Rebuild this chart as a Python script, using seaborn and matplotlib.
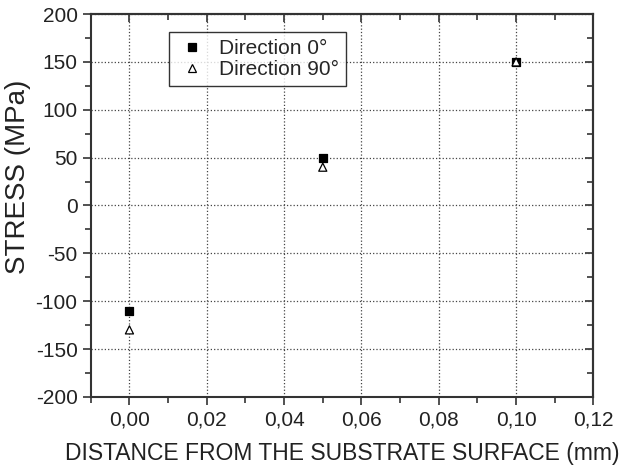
import seaborn as sns
import matplotlib.pyplot as plt
import pandas as pd
from matplotlib.ticker import MultipleLocator, FuncFormatter

# data
distance = [0.00, 0.05, 0.10]
stress_0 = [-110, 50, 150]
stress_90 = [-130, 40, 150]
labels = ["Direction 0°", "Direction 90°"]

df = pd.DataFrame({
    "distance": distance * 2,
    "stress": stress_0 + stress_90,
    "series": [labels[0]] * 3 + [labels[1]] * 3,
})

sns.set_style("ticks")
plt.rcParams["font.family"] = ["Liberation Sans", "DejaVu Sans"]
plt.rcParams["axes.unicode_minus"] = False

fig, ax = plt.subplots(figsize=(6.26, 4.68), dpi=100)

sns.scatterplot(data=df, x="distance", y="stress", hue="series", style="series",
                markers={labels[0]: "s", labels[1]: "^"},
                palette={labels[0]: "black", labels[1]: "white"},
                edgecolor="black", s=34, linewidth=0.9, ax=ax, zorder=3)

ax.set_xlim(-0.01, 0.12)
ax.set_ylim(-200, 200)
ax.xaxis.set_major_locator(MultipleLocator(0.02))
ax.xaxis.set_minor_locator(MultipleLocator(0.01))
ax.yaxis.set_major_locator(MultipleLocator(50))
ax.yaxis.set_minor_locator(MultipleLocator(25))
ax.xaxis.set_major_formatter(FuncFormatter(lambda v, p: f"{v:.2f}".replace(".", ",")))

ax.grid(True, which="major", linestyle=":", color="#444444", linewidth=0.9)
ax.set_axisbelow(True)

for s in ax.spines.values():
    s.set_linewidth(1.5)
    s.set_color("#333333")
    s.set_visible(True)

ax.tick_params(which="both", direction="out", width=1.2, colors="#333333",
               labelsize=15, labelcolor="#222222")
ax.tick_params(which="major", length=6)
ax.tick_params(which="minor", length=4)

# mirrored ticks on top and right, pointing inward
top = ax.secondary_xaxis("top")
top.xaxis.set_major_locator(MultipleLocator(0.02))
top.xaxis.set_minor_locator(MultipleLocator(0.01))
right = ax.secondary_yaxis("right")
right.yaxis.set_major_locator(MultipleLocator(50))
right.yaxis.set_minor_locator(MultipleLocator(25))
for sec in (top, right):
    sec.tick_params(which="both", direction="in", width=1.2, colors="#333333",
                    labeltop=False, labelright=False, labelleft=False, labelbottom=False)
    sec.tick_params(which="major", length=6)
    sec.tick_params(which="minor", length=4)
    for s in sec.spines.values():
        s.set_linewidth(1.5)
        s.set_color("#333333")

ax.set_xlabel("DISTANCE FROM THE SUBSTRATE SURFACE (mm)", fontsize=16.5,
              labelpad=9, color="#222222")
ax.set_ylabel("STRESS (MPa)", fontsize=20, color="#222222")
ax.yaxis.set_label_coords(-0.118, 0.575)

leg = ax.legend(loc="upper left", bbox_to_anchor=(0.155, 0.953), fontsize=15,
                frameon=True, fancybox=False, shadow=False, edgecolor="black",
                borderaxespad=0, handletextpad=0.55, borderpad=0.35, labelspacing=0.08,
                markerscale=0.9, handlelength=1.5)
leg.get_frame().set_linewidth(1.0)

fig.subplots_adjust(left=0.145, right=0.948, top=0.97, bottom=0.152)
fig.savefig("out.png", dpi=100)
